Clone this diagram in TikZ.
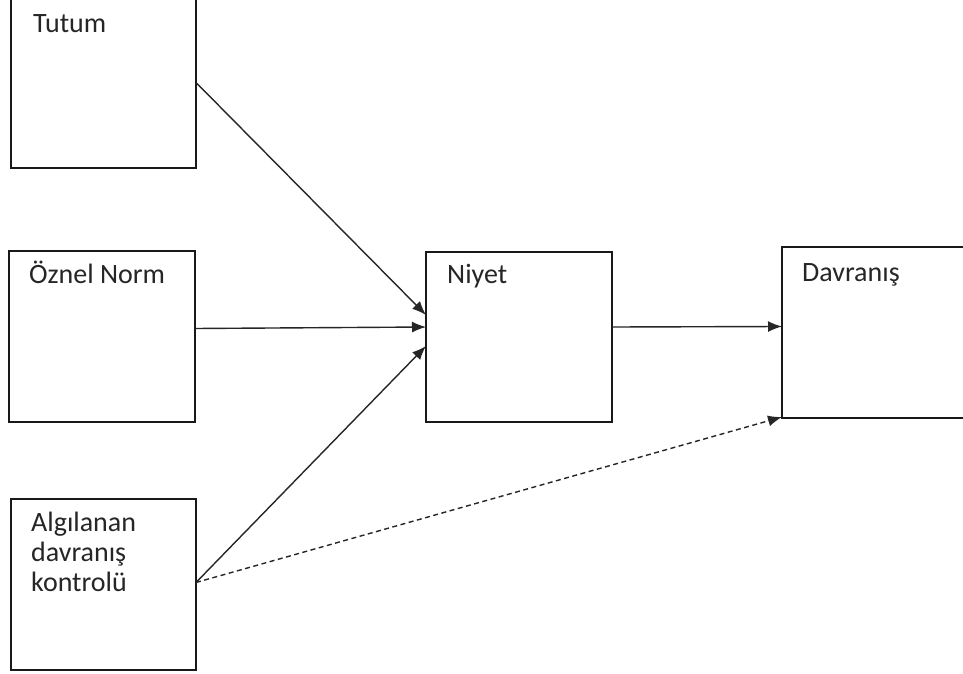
\documentclass[tikz,border=0pt]{standalone}
\usepackage{fontspec}
\setmainfont{Carlito}
\usetikzlibrary{arrows.meta}
\begin{document}
\begin{tikzpicture}[x=1pt,y=-1pt,
  box/.style={draw=black!90, line width=1.5pt, rectangle, inner sep=0pt, outer sep=0pt},
  lbl/.style={anchor=base west, inner sep=0pt, text=black!85,
    font=\fontsize{28}{30}\selectfont, align=left},
  arr/.style={draw=black!85, line width=1.4pt, -{Latex[length=14pt,width=11pt]}},
  dasharr/.style={arr, dash pattern=on 5pt off 3.5pt}]
\useasboundingbox[fill=white] (0,0) rectangle (963,674);

% boxes
\node[box, minimum width=185pt, minimum height=171pt] (tutum) at (103.5,82.5) {};
\node[box, minimum width=186pt, minimum height=171pt] (oznel) at (102,336.5) {};
\node[box, minimum width=185pt, minimum height=171pt] (algi)  at (103.5,584.5) {};
\node[box, minimum width=186pt, minimum height=170pt] (niyet) at (519,337) {};
\node[box, minimum width=188pt, minimum height=171pt] (davr)  at (876,332.5) {};

% labels (a multi-line label sits on the baseline of its last line)
\node[lbl] (tTutum) at (33,33) {Tutum};
\node[lbl] (tOznel) at (29,283) {Öznel Norm};
\node[lbl] (tAlgi)  at (31,591) {Algılanan\\davranış\\kontrolü};
\node[lbl] (tNiyet) at (447,283) {Niyet};
\node[lbl] (tDavr)  at (802,281) {Davranış};

% connectors
\draw[arr] (tutum.east) -- ([yshift=22pt]niyet.west);
\draw[arr] ([yshift=8pt]oznel.east) -- ([yshift=10pt]niyet.west);
\draw[arr] ([yshift=2pt]algi.east) -- ([yshift=-9pt]niyet.west);
\draw[arr] ([yshift=10pt]niyet.east) -- ([yshift=6pt]davr.west);
\draw[dasharr] ([yshift=2pt]algi.east) -- ([yshift=1pt]davr.south west);
\end{tikzpicture}
\end{document}
